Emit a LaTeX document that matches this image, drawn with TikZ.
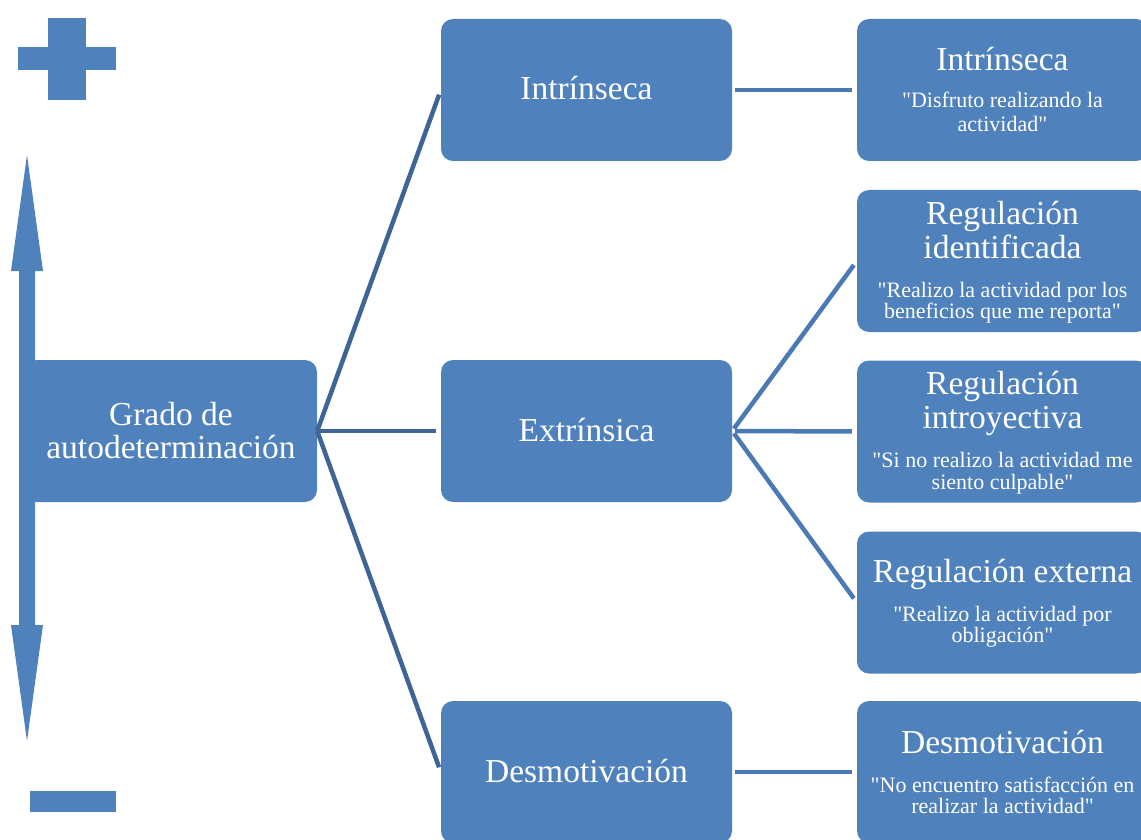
\documentclass[tikz,border=0pt]{standalone}
\usepackage{fontspec}
\setmainfont{Liberation Serif}
\newcommand\dq{\XeTeXglyph\XeTeXcharglyph"22\relax}
\definecolor{boxblue}{RGB}{79,129,189}
\definecolor{lineA}{RGB}{62,101,150}
\definecolor{lineB}{RGB}{74,121,180}
\tikzset{
  box/.style={fill=boxblue, rounded corners=12pt, minimum width=291pt, minimum height=142pt, inner sep=0pt, draw=none},
  ttl/.style={font=\fontsize{33.5}{34}\selectfont, text=white, anchor=base, inner sep=0pt},
  qt/.style={font=\fontsize{22}{22}\selectfont, text=white, anchor=base, inner sep=0pt},
  connA/.style={draw=lineA, line width=4.5pt, shorten >=5pt},
  connB/.style={draw=lineB, line width=4.5pt, shorten >=5pt, shorten <=3pt},
  sym/.style={fill=boxblue, draw=none}
}
\begin{document}
\begin{tikzpicture}[x=1pt,y=-1pt]
\useasboundingbox (0,0) rectangle (1141,840);
\clip (0,0) rectangle (1141,840);
% boxes
\node[box, minimum width=292pt] (c) at (171,431) {};
\node[box] (m1) at (586.5,90) {};
\node[box] (m2) at (586.5,431) {};
\node[box] (m3) at (586.5,772) {};
\node[box] (r1) at (1002.5,90) {};
\node[box] (r2) at (1002.5,261) {};
\node[box] (r3) at (1002.5,431.5) {};
\node[box] (r4) at (1002.5,602.5) {};
\node[box] (r5) at (1002.5,772) {};
% plus / minus / arrow
\fill[sym] (47.5,18) rectangle (86,100);
\fill[sym] (18,47) rectangle (116,70);
\fill[sym] (30,791) rectangle (116,812);
\fill[sym] (27,155) -- (43,271) -- (35,271) -- (35,625) -- (43,625) -- (27,741)
  -- (11,625) -- (19,625) -- (19,271) -- (11,271) -- cycle;
% connectors
\draw[connA] (c.east) -- (m1.west);
\draw[connA] (c.east) -- (m2.west);
\draw[connA] (c.east) -- (m3.west);
\draw[connB] (m1.east) -- (r1.west);
\draw[connB] (m2.east) -- (r2.west);
\draw[connB] (m2.east) -- (r3.west);
\draw[connB] (m2.east) -- (r4.west);
\draw[connB] (m3.east) -- (r5.west);
% texts
\node[ttl] (ct1) at (171,425) {Grado de};
\node[ttl] (ct2) at (171,458) {autodeterminación};
\node[ttl] (m1t) at (586.5,100) {Intrínseca};
\node[ttl] (m2t) at (586.5,441) {Extrínsica};
\node[ttl] (m3t) at (586.5,782) {Desmotivación};
\node[ttl] (r1t) at (1002.5,71) {Intrínseca};
\node[qt] (r1q1) at (1002.5,108) {\dq Disfruto realizando la};
\node[qt] (r1q2) at (1002.5,131.5) {actividad\dq};
\node[ttl] (r2t1) at (1002.5,224) {Regulación};
\node[ttl] (r2t2) at (1002.5,258) {identificada};
\node[qt] (r2q1) at (1002.5,297) {\dq Realizo la actividad por los};
\node[qt] (r2q2) at (1002.5,318.5) {beneficios que me reporta\dq};
\node[ttl] (r3t1) at (1002.5,394) {Regulación};
\node[ttl] (r3t2) at (1002.5,428) {introyectiva};
\node[qt] (r3q1) at (1002.5,467) {\dq Si no realizo la actividad me};
\node[qt] (r3q2) at (1002.5,489) {siento culpable\dq};
\node[ttl] (r4t) at (1002.5,582) {Regulación externa};
\node[qt] (r4q1) at (1002.5,621) {\dq Realizo la actividad por};
\node[qt] (r4q2) at (1002.5,642) {obligación\dq};
\node[ttl] (r5t) at (1002.5,753) {Desmotivación};
\node[qt] (r5q1) at (1002.5,792) {\dq No encuentro satisfacción en};
\node[qt] (r5q2) at (1002.5,813) {realizar la actividad\dq};
\end{tikzpicture}
\end{document}
